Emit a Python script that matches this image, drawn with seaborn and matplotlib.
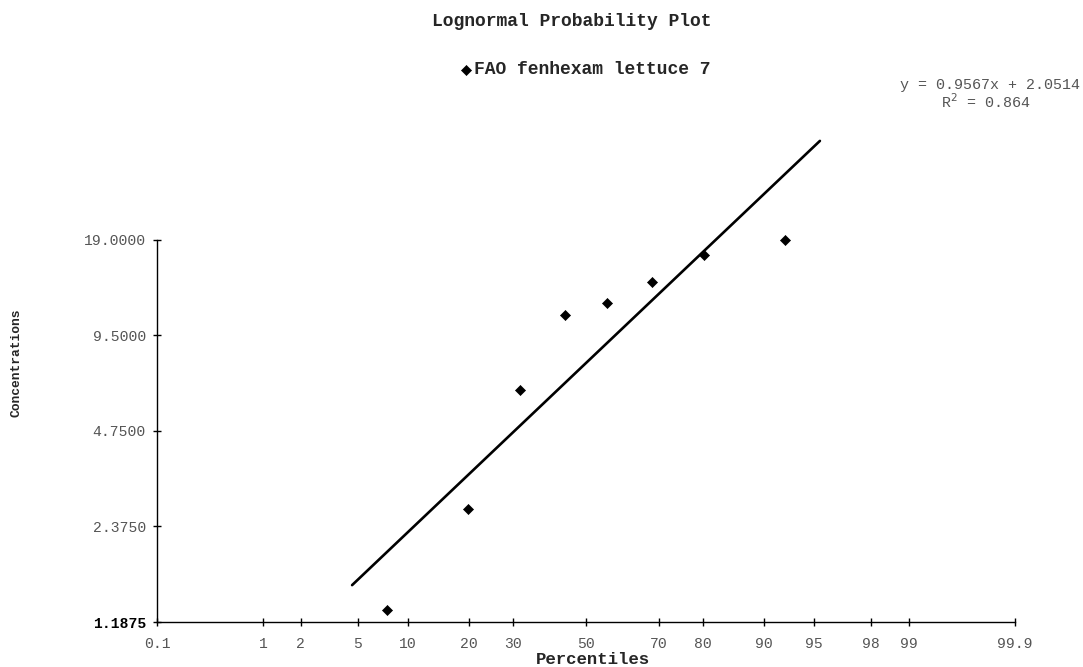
import numpy as np
import pandas as pd
import seaborn as sns
import matplotlib.pyplot as plt
from statistics import NormalDist

# data
konsantrasyon = [1.3, 2.7, 6.4, 11.0, 12.0, 14.0, 17.0, 19.0]
egim = 0.9567
kesisim = 2.0514
r_kare = 0.864
x_tick_yuzde = [0.1, 1, 2, 5, 10, 20, 30, 50, 70, 80, 90, 95, 98, 99, 99.9]
y_ticks = [1.1875, 2.375, 4.75, 9.5, 19.0]
cizgi_yuzde = [4.6, 95.4]

nd = NormalDist()
n = len(konsantrasyon)
# Blom plotting positions
z_nokta = [nd.inv_cdf((i - 0.375) / (n + 0.25)) for i in range(1, n + 1)]
veri = pd.DataFrame({"z": z_nokta, "Concentrations": konsantrasyon})

z_cizgi = np.array([nd.inv_cdf(p / 100) for p in cizgi_yuzde])
cizgi = pd.DataFrame({"z": z_cizgi, "y": np.exp(egim * z_cizgi + kesisim)})

sns.set_style("white")
plt.rcParams["font.family"] = ["Liberation Mono", "DejaVu Sans Mono"]

fig = plt.figure(figsize=(10.83, 6.67), dpi=100)
ax = fig.add_axes([157 / 1083, 1 - 622 / 667, (1015 - 157) / 1083, (622 - 130) / 667])

sns.lineplot(data=cizgi, x="z", y="y", color="black", linewidth=1.9, ax=ax)
sns.scatterplot(data=veri, x="z", y="Concentrations", marker="D", s=26, color="black",
                edgecolor="black", linewidth=0.5, label="FAO fenhexam lettuce 7", ax=ax)

ax.set_yscale("log")
ax.set_xlim(nd.inv_cdf(0.001), nd.inv_cdf(0.999))
ax.set_ylim(1.1875, 42.2)

ax.set_xticks([nd.inv_cdf(p / 100) for p in x_tick_yuzde])
ax.set_xticklabels([f"{p:g}" for p in x_tick_yuzde])
ax.set_yticks(y_ticks)
ax.set_yticklabels([f"{v:.4f}" for v in y_ticks])
ax.yaxis.set_minor_locator(plt.NullLocator())

for s in ["top", "right"]:
    ax.spines[s].set_visible(False)
for s in ["left", "bottom"]:
    ax.spines[s].set_color("black")
    ax.spines[s].set_linewidth(1.0)
ax.spines["left"].set_bounds(1.1875, 19.0)

ax.tick_params(axis="both", which="major", direction="inout", length=6, width=1,
               color="black", labelsize=10.6, labelcolor="#555555", left=True, bottom=True)
ax.tick_params(axis="x", pad=8)
ax.tick_params(axis="y", pad=5)

alt = ax.get_yticklabels()[0]
alt.set_color("black")
alt.set_fontweight("bold")

ax.set_xlabel("")
ax.set_ylabel("")
fig.text(593 / 1083, 1 - 660 / 667, "Percentiles", ha="center", va="center",
         fontsize=12.5, fontweight="bold")
fig.text(17 / 1083, 1 - 363 / 667, "Concentrations", ha="center", va="center",
         rotation=90, fontsize=9.4, fontweight="bold")

fig.text(572 / 1083, 1 - 22 / 667, "Lognormal Probability Plot", ha="center", va="center",
         fontsize=13, fontweight="bold")

tutamac, etiket = ax.get_legend_handles_labels()
ax.get_legend().remove()
fig.legend(tutamac, etiket, loc="center", bbox_to_anchor=(586 / 1083, 1 - 70 / 667),
           frameon=False, handlelength=0.5, handletextpad=0.2, borderpad=0,
           prop={"family": ["Liberation Mono"], "weight": "bold", "size": 13})

fig.text(990 / 1083, 1 - 85 / 667, f"y = {egim:.4f}x + {kesisim:.4f}", ha="center",
         va="center", fontsize=10.8, color="#555555")
fig.text(986 / 1083, 1 - 102 / 667, f"R$^2$ = {r_kare:.3f}", ha="center",
         va="center", fontsize=10.8, color="#555555")

fig.savefig("out.png", dpi=100)
